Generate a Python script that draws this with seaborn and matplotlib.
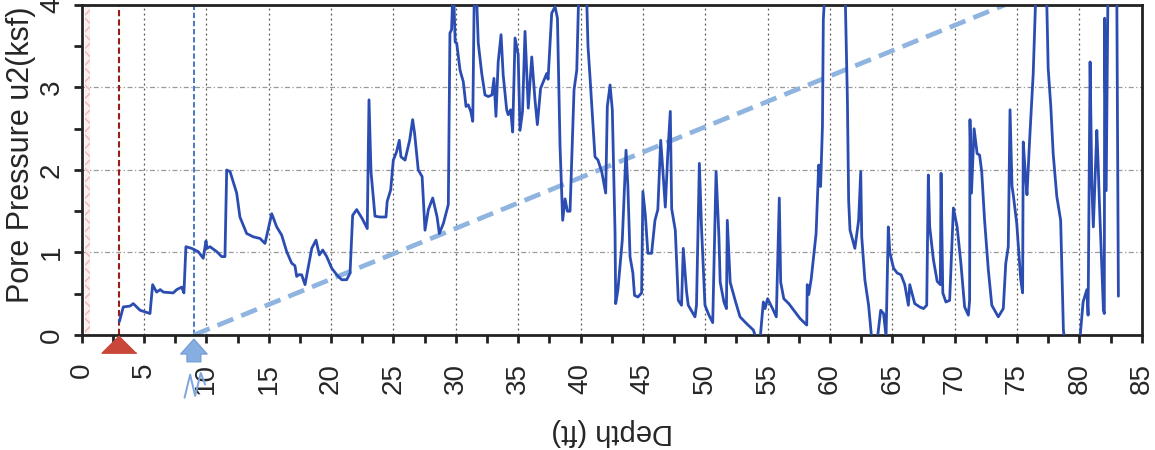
import numpy as np
import pandas as pd
import matplotlib
matplotlib.use("Agg")
import matplotlib.pyplot as plt
import matplotlib.transforms as mtransforms
from matplotlib.ticker import MultipleLocator
import seaborn as sns

# CPT pore pressure trace
depth_ft = [
    3.02, 3.34, 3.87, 4.14, 4.68, 5.48, 5.69, 6.01, 6.30, 6.55, 7.35, 7.62, 8.02, 8.20,
    8.36, 8.82, 9.35, 9.75, 9.97, 10.05, 10.29, 10.83, 11.23, 11.49, 11.63, 11.90, 12.43,
    12.69, 13.23, 13.76, 14.30, 14.70, 15.24, 15.64, 16.04, 16.44, 16.84, 17.10, 17.24,
    17.40, 17.64, 17.91, 18.18, 18.45, 18.79, 19.06, 19.33, 19.65, 20.05, 20.45, 20.85,
    21.25, 21.52, 21.73, 22.05, 22.50, 22.90, 23.04, 23.20, 23.52, 23.92, 24.40, 24.50,
    24.78, 24.99, 25.25, 25.47, 25.60, 25.93, 26.30, 26.54, 26.70, 26.99, 27.30, 27.53,
    27.80, 28.15, 28.50, 28.68, 29.00, 29.40, 29.53, 29.66, 29.80, 29.95, 30.07, 30.34,
    30.60, 30.82, 31.00, 31.20, 31.36, 31.50, 31.62, 31.80, 32.08, 32.34, 32.60, 32.90,
    33.06, 33.22, 33.40, 33.63, 33.80, 34.08, 34.20, 34.40, 34.56, 34.75, 35.00, 35.15,
    35.35, 35.55, 35.81, 36.09, 36.35, 36.54, 36.80, 37.29, 37.40, 37.69, 37.96, 38.15,
    38.36, 38.57, 38.76, 38.95, 39.16, 39.48, 39.70, 39.85, 40.15, 40.50, 40.60, 40.76,
    41.00, 41.16, 41.40, 41.70, 42.02, 42.15, 42.37, 42.55, 42.77, 42.82, 43.00, 43.35,
    43.65, 43.80, 43.97, 44.20, 44.33, 44.60, 44.90, 45.00, 45.20, 45.40, 45.70, 45.97,
    46.20, 46.43, 46.60, 46.80, 47.00, 47.20, 47.31, 47.60, 47.84, 48.10, 48.24, 48.50,
    48.64, 49.18, 49.30, 49.53, 49.70, 49.98, 50.30, 50.60, 50.87, 51.10, 51.20, 51.50,
    51.70, 51.77, 52.00, 52.40, 52.79, 53.30, 53.86, 54.10, 54.40, 54.66, 54.80, 55.00,
    55.40, 55.70, 55.94, 56.05, 56.30, 56.70, 57.10, 57.60, 58.14, 58.18, 58.30, 58.50,
    58.89, 59.10, 59.25, 59.40, 59.47, 59.60, 60.50, 61.20, 61.40, 61.50, 61.61, 61.90,
    62.00, 62.30, 62.47, 62.55, 62.80, 63.10, 63.35, 63.80, 64.07, 64.30, 64.50, 64.68,
    64.80, 65.10, 65.40, 65.70, 66.00, 66.29, 66.40, 66.80, 67.20, 67.50, 67.76, 67.89,
    68.00, 68.30, 68.60, 68.85, 68.91, 69.05, 69.30, 69.60, 69.90, 70.20, 70.50, 70.80,
    71.10, 71.20, 71.23, 71.35, 71.56, 71.80, 72.00, 72.17, 72.40, 72.70, 72.98, 73.50,
    73.90, 74.10, 74.30, 74.44, 74.60, 74.70, 74.98, 75.30, 75.45, 75.50, 75.70, 75.80,
    76.00, 76.30, 76.50, 77.00, 77.37, 77.50, 77.71, 77.90, 78.19, 78.50, 78.72, 79.40,
    80.06, 80.30, 80.60, 80.70, 80.86, 81.00, 81.12, 81.40, 81.50, 81.60, 81.93, 82.00,
    82.03, 82.15, 82.30, 82.70, 83.00, 83.13,
]
u2_ksf = [
    0.16, 0.34, 0.35, 0.38, 0.30, 0.26, 0.61, 0.52, 0.55, 0.52, 0.51, 0.55, 0.58, 0.51,
    1.07, 1.05, 1.01, 0.93, 1.14, 1.05, 1.07, 1.01, 0.95, 0.95, 2.00, 1.98, 1.72,
    1.43, 1.23, 1.19, 1.17, 1.11, 1.47, 1.31, 1.21, 1.01, 0.87, 0.84, 0.71,
    0.73, 0.73, 0.61, 0.83, 1.05, 1.15, 0.97, 1.03, 0.95, 0.81, 0.73, 0.67,
    0.67, 0.75, 1.45, 1.52, 1.41, 1.29, 2.85, 1.98, 1.44, 1.43, 1.43, 1.62,
    1.76, 2.12, 2.22, 2.36, 2.16, 2.12, 2.36, 2.61, 2.44, 2.00, 1.92, 1.27,
    1.52, 1.66, 1.43, 1.23, 1.35, 1.58, 3.66, 3.70, 4.30, 3.55, 3.54, 3.21,
    3.07, 2.77, 2.79, 2.71, 2.59, 4.40, 4.30, 3.54, 3.17, 2.91, 2.89, 2.91,
    3.11, 2.65, 3.31, 3.64, 3.15, 2.73, 2.67, 2.73, 2.46, 3.60, 3.40, 2.48,
    2.71, 3.68, 2.75, 3.37, 2.85, 2.55, 2.99, 3.17, 3.10, 3.90, 3.98, 3.84,
    2.28, 1.39, 1.65, 1.50, 1.50, 2.97, 3.21, 4.10, 5.00, 4.05, 3.50, 3.13,
    2.55, 2.16, 2.12, 1.98, 1.72, 2.77, 3.03, 2.73, 1.23, 0.38, 0.55, 1.15,
    2.24, 1.80, 0.95, 0.75, 0.48, 0.46, 0.51, 1.74, 1.45, 0.99, 0.99, 1.39,
    1.52, 2.36, 2.00, 1.55, 2.20, 2.71, 1.53, 1.27, 0.42, 0.36, 1.05, 0.53,
    0.36, 0.22, 0.36, 2.08, 1.31, 0.36, 0.24, 0.15, 1.98, 1.19, 0.64, 0.40,
    0.32, 1.39, 0.64, 0.42, 0.22, 0.14, 0.06, -0.05, -0.05, 0.40, 0.32, 0.44,
    0.32, 0.22, 1.66, 0.64, 0.44, 0.38, 0.30, 0.20, 0.12, 0.61, 0.49, 0.68,
    1.23, 2.06, 1.80, 2.53, 3.82, 4.20, 7.00, 4.30, 2.85, 1.63, 1.27, 1.11,
    1.05, 1.39, 1.98, 1.19, 0.67, 0.36, -0.05, -0.05, 0.30, 0.26, -0.02, 1.31,
    1.00, 0.81, 0.75, 0.73, 0.61, 0.36, 0.61, 0.38, 0.34, 0.32, 0.36, 1.94,
    1.31, 0.91, 0.65, 0.61, 1.96, 0.51, 0.40, 0.42, 1.54, 1.31, 0.87, 0.34,
    0.24, 0.42, 2.61, 1.72, 2.50, 2.20, 2.18, 1.98, 1.39, 0.79, 0.36, 0.22,
    0.32, 0.87, 1.07, 2.73, 1.80, 1.70, 1.35, 0.67, 0.51, 2.34, 1.88, 1.70,
    2.33, 3.17, 4.10, 6.00, 4.15, 3.23, 2.77, 2.20, 1.68, 1.39, 0.06, -0.80,
    -0.02, 0.40, 0.55, 0.24, 3.31, 1.82, 1.31, 2.48, 2.10, 1.63, 0.30, 0.26,
    3.84, 1.75, 4.30, 6.00, 4.20, 0.47,
]

# hydrostatic line and reference depths
hydro_depth = [9.0, 74.0]
hydro_u0 = [0.0, 4.0]
predrill_depth = 3.0
gwt_depth = 9.0
x_ticks = list(range(0, 90, 5))
y_ticks = [0, 1, 2, 3, 4]

sns.set_style("ticks")
plt.rcParams['font.family'] = ['Liberation Sans', 'DejaVu Sans']

fig = plt.figure(figsize=(11.55, 4.5), dpi=100)
ax = fig.add_axes([0.0707, 0.2556, 0.9178, 0.7333])

ax.set_xlim(0, 85)
ax.set_ylim(0, 4)

# pink hatched strip near the surface
ax.axvspan(0.25, 0.7, facecolor='#fdeeee', edgecolor='#f0b4b4', hatch='xx', lw=0, zorder=1)

# predrill and water table verticals
ax.axvline(predrill_depth, color='#9b1b1b', ls=(0, (3, 1.5)), lw=1.5, zorder=2)
ax.axvline(gwt_depth, color='#3d6cc0', ls=(0, (3, 1.5)), lw=1.3, zorder=2)

ax.plot(hydro_depth, hydro_u0, color='#8fb4e0', lw=3.4, dashes=(3.6, 1.8), zorder=2)

df = pd.DataFrame({'depth': depth_ft, 'u2': u2_ksf})
sns.lineplot(data=df, x='depth', y='u2', sort=False, estimator=None,
             color='#2b4db2', lw=2.0, ax=ax, zorder=3)

# markers below the axis
blend = mtransforms.blended_transform_factory(ax.transData, ax.transAxes)
ax.plot([predrill_depth], [-0.028], transform=blend, clip_on=False,
        marker=[(0, 0.5), (-1, -0.5), (1, -0.5)], ms=25, color='#c8473a', mec='#c8473a', zorder=5)
ax.annotate('', xy=(gwt_depth, -0.004), xycoords=blend,
            xytext=(gwt_depth, -0.09), textcoords=blend, annotation_clip=False,
            arrowprops=dict(arrowstyle='simple,head_length=0.45,head_width=0.8,tail_width=0.42',
                            mutation_scale=24, fc='#86aee0', ec='#6f9ad6', lw=0.8))
zz_x = [gwt_depth - 0.75, gwt_depth - 0.3, gwt_depth + 0.1, gwt_depth + 0.55, gwt_depth + 0.9]
zz_y = [-0.19, -0.12, -0.185, -0.115, -0.15]
ax.plot(zz_x, zz_y, transform=blend, clip_on=False, color='#7fa6dc', lw=1.4)

# grid, ticks, spines
ax.set_xticks(x_ticks)
ax.set_yticks(y_ticks)
ax.xaxis.set_minor_locator(MultipleLocator(2.5))
ax.yaxis.set_minor_locator(MultipleLocator(0.5))
ax.grid(axis='x', which='major', color='#555555', ls=(0, (1.5, 2.5)), lw=0.9)
ax.grid(axis='y', which='major', color='#9a9a9a', ls=(0, (4, 2, 1, 2)), lw=0.9)
ax.set_axisbelow(True)

ax.tick_params(axis='both', which='both', direction='out', length=6, width=2, color='#222222')
ax.tick_params(axis='x', labelsize=20, labelrotation=90, pad=14)
ax.tick_params(axis='y', labelsize=20, labelrotation=90, pad=6)
for lab in ax.get_yticklabels():
    lab.set_va('center')

for sp in ax.spines.values():
    sp.set_linewidth(2)
    sp.set_color('#222222')

ax.set_xlabel('Depth (ft)', fontsize=21, rotation=180, ha='center', va='center')
ax.xaxis.set_label_coords(0.5, -0.294)
ax.set_ylabel('Pore Pressure u2(ksf)', fontsize=22, va='center')
ax.yaxis.set_label_coords(-0.0575, 0.545)

fig.savefig('out.png', dpi=100)
